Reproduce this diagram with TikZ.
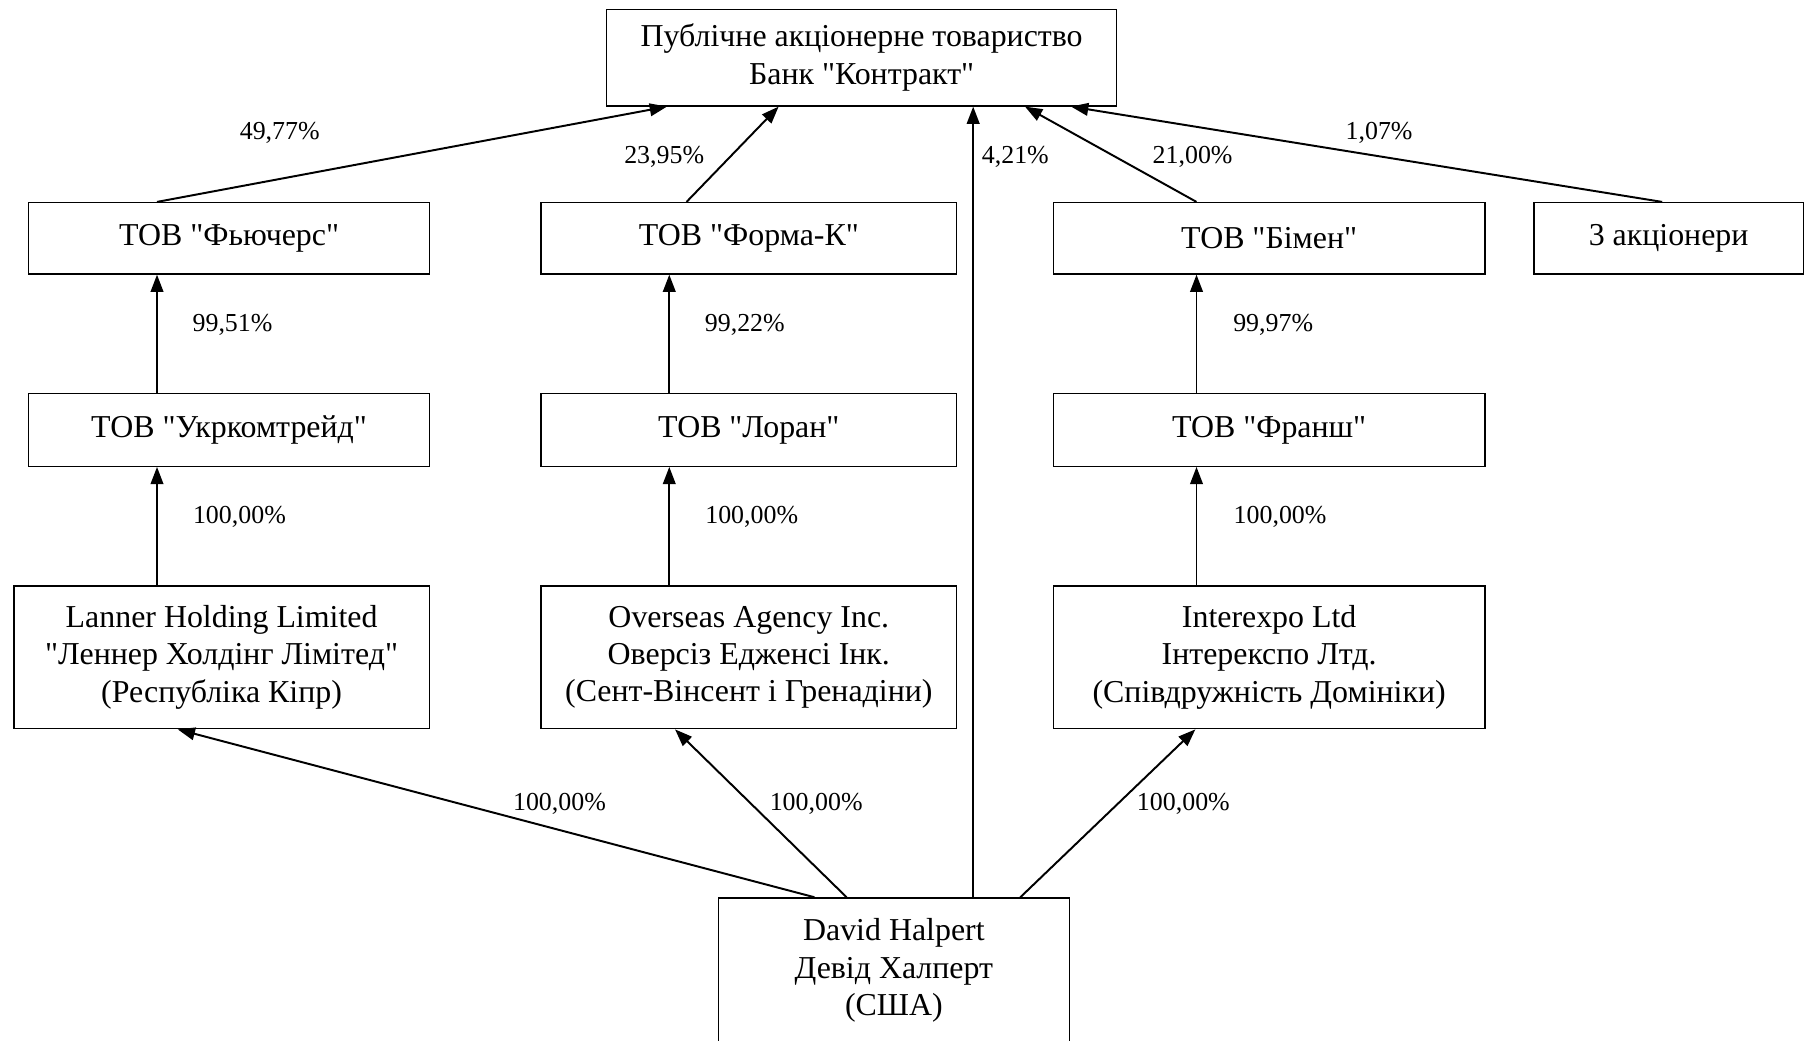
\documentclass[tikz,border=0pt]{standalone}
\usepackage{fontspec}
\setmainfont{Liberation Serif}[Ligatures=TeXOff]
\usetikzlibrary{arrows.meta}
\begin{document}
\begin{tikzpicture}[x=1pt,y=-1pt,
  box/.style={draw,line width=1.2pt,rectangle,inner sep=0pt,align=center,
    font=\fontsize{27.7}{32.5}\selectfont},
  lab/.style={inner sep=0pt,font=\fontsize{22.5}{26}\selectfont},
  link/.style={line width=1.7pt,-{Triangle[length=15pt,width=11pt]}}]
\useasboundingbox (0,0) rectangle (1568,904);
% boxes
\node[box,minimum width=443pt,minimum height=84pt] (bank) at (748.5,50) {Публічне акціонерне товариство\\Банк "Контракт"};
\node[box,minimum width=348pt,minimum height=62pt] (fut) at (199,207) {ТОВ "Фьючерс"};
\node[box,minimum width=361pt,minimum height=62pt] (forma) at (650.5,207) {ТОВ "Форма-К"};
\node[box,minimum width=375pt,minimum height=62pt] (bimen) at (1102.5,207) {ТОВ "Бімен"};
\node[box,minimum width=234pt,minimum height=62pt] (three) at (1449.5,207) {3 акціонери};
\node[box,minimum width=348pt,minimum height=63pt] (ukr) at (199,373.5) {ТОВ "Укркомтрейд"};
\node[box,minimum width=361pt,minimum height=63pt] (loran) at (650.5,373.5) {ТОВ "Лоран"};
\node[box,minimum width=375pt,minimum height=63pt] (fransh) at (1102.5,373.5) {ТОВ "Франш"};
\node[box,minimum width=361pt,minimum height=124pt] (lanner) at (192.5,571) {Lanner Holding Limited\\"Леннер Холдінг Лімітед"\\(Республіка Кіпр)};
\node[box,minimum width=361pt,minimum height=124pt] (overseas) at (650.5,571) {Overseas Agency Inc.\\Оверсіз Едженсі Інк.\\(Сент-Вінсент і Гренадіни)};
\node[box,minimum width=375pt,minimum height=124pt] (interexpo) at (1102.5,571) {Interexpo Ltd\\Інтерекспо Лтд.\\(Співдружність Домініки)};
\node[box,minimum width=305pt,minimum height=126pt] (david) at (776.5,843) {David Halpert\\Девід Халперт\\(США)};
% connectors
\draw[link] ([xshift=112pt]fut.north west) -- ([xshift=53pt]bank.south west);
\draw[link] ([xshift=127pt]forma.north west) -- ([xshift=150pt]bank.south west);
\draw[link] ([xshift=222pt]david.north west) -- ([xshift=319pt]bank.south west);
\draw[link] ([xshift=125pt]bimen.north west) -- ([xshift=364pt]bank.south west);
\draw[link] ([xshift=112pt]three.north west) -- ([xshift=404pt]bank.south west);
\draw[link] ([xshift=112pt]ukr.north west) -- ([xshift=112pt]fut.south west);
\draw[link] ([xshift=112pt]loran.north west) -- ([xshift=112pt]forma.south west);
\draw[link] ([xshift=125pt]fransh.north west) -- ([xshift=125pt]bimen.south west);
\draw[link] ([xshift=125pt]lanner.north west) -- ([xshift=112pt]ukr.south west);
\draw[link] ([xshift=112pt]overseas.north west) -- ([xshift=112pt]loran.south west);
\draw[link] ([xshift=125pt]interexpo.north west) -- ([xshift=125pt]fransh.south west);
\draw[link] ([xshift=84pt]david.north west) -- ([xshift=143pt]lanner.south west);
\draw[link] ([xshift=112pt]david.north west) -- ([xshift=117pt]overseas.south west);
\draw[link] ([xshift=263pt]david.north west) -- ([xshift=124pt]interexpo.south west);
% labels
\node[lab] (l1) at (243,115) {49,77\%};
\node[lab] (l2) at (577,136) {23,95\%};
\node[lab] (l3) at (882,136) {4,21\%};
\node[lab] (l4) at (1036,136) {21,00\%};
\node[lab] (l5) at (1198,115) {1,07\%};
\node[lab] (l6) at (202,282) {99,51\%};
\node[lab] (l7) at (647,282) {99,22\%};
\node[lab] (l8) at (1106,282) {99,97\%};
\node[lab] (l9) at (208,449) {100,00\%};
\node[lab] (l10) at (653,449) {100,00\%};
\node[lab] (l11) at (1112,449) {100,00\%};
\node[lab] (l12) at (486,698) {100,00\%};
\node[lab] (l13) at (709,698) {100,00\%};
\node[lab] (l14) at (1028,698) {100,00\%};
\end{tikzpicture}
\end{document}
